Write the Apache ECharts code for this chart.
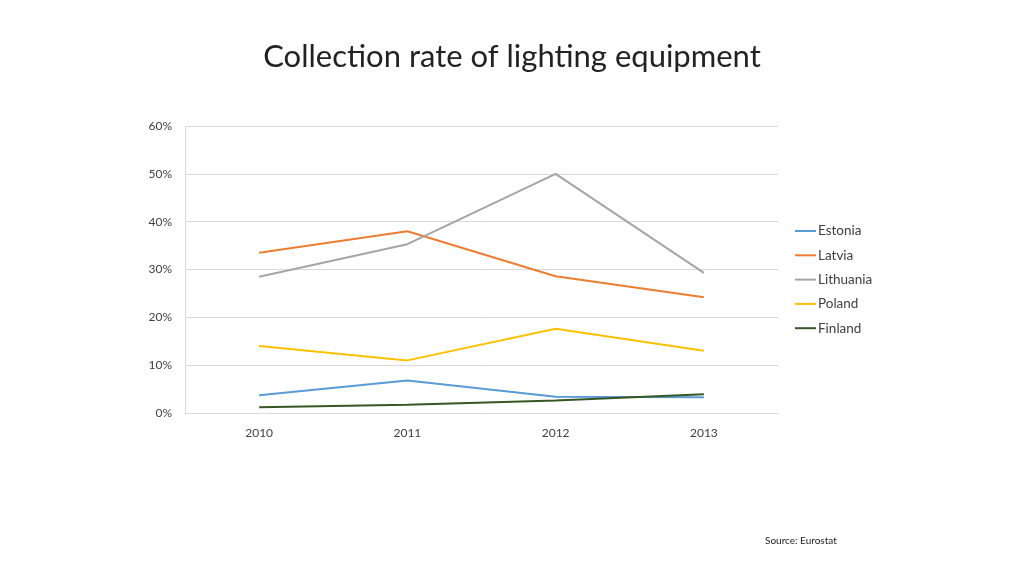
<!DOCTYPE html>
<html>
<head>
<meta charset="utf-8">
<script src="https://cdn.jsdelivr.net/npm/echarts@6/dist/echarts.min.js"></script>
<style>html,body{margin:0;padding:0;background:#fff;}#c{width:1024px;height:576px;}</style>
</head>
<body>
<div id="c"></div>
<script>
const categories = ['2010', '2011', '2012', '2013'];
const seriesNames = ['Estonia', 'Latvia', 'Lithuania', 'Poland', 'Finland'];
const estonia = [3.7, 6.8, 3.4, 3.3];
const latvia = [33.5, 38.0, 28.6, 24.2];
const lithuania = [28.5, 35.3, 50.0, 29.3];
const poland = [14.0, 11.0, 17.6, 13.0];
const finland = [1.2, 1.7, 2.6, 3.9];
const colors = ['#5b9bd5', '#ed7d31', '#a5a5a5', '#ffc000', '#375623'];
const values = [estonia, latvia, lithuania, poland, finland];

const chart = echarts.init(document.getElementById('c'), null, {renderer: 'canvas'});
const font = 'Lato, "Open Sans", sans-serif';
chart.setOption({
  animation: false,
  backgroundColor: '#ffffff',
  title: {
    text: 'Collection rate of lighting equipment',
    left: 'center',
    top: 36,
    textStyle: {fontFamily: font, fontSize: 31, fontWeight: 'normal', color: '#222'}
  },
  graphic: [{
    type: 'text',
    left: 765,
    top: 536,
    style: {text: 'Source: Eurostat', font: '10px ' + font, fill: '#222'}
  }],
  legend: {
    orient: 'vertical',
    left: 790,
    top: 219,
    itemWidth: 21,
    itemHeight: 2,
    itemGap: 10.3,
    icon: 'rect',
    textStyle: {fontFamily: font, fontSize: 13.5, color: '#404040', padding: [0, 0, 0, -3]},
    data: seriesNames
  },
  grid: {left: 185, right: 246, top: 126, bottom: 163, containLabel: false},
  xAxis: {
    type: 'category',
    data: categories,
    boundaryGap: true,
    axisLine: {lineStyle: {color: '#d9d9d9', width: 1}},
    axisTick: {show: false},
    axisLabel: {fontFamily: font, fontSize: 12, color: '#404040', margin: 14}
  },
  yAxis: {
    type: 'value',
    min: 0,
    max: 60,
    interval: 10,
    axisLine: {show: true, lineStyle: {color: '#d9d9d9', width: 1}},
    axisTick: {show: false},
    splitLine: {lineStyle: {color: '#d9d9d9', width: 1}},
    axisLabel: {fontFamily: font, fontSize: 12, color: '#404040', margin: 13, formatter: '{value}%'}
  },
  series: seriesNames.map((n, i) => ({
    name: n,
    type: 'line',
    data: values[i],
    color: colors[i],
    symbol: 'none',
    lineStyle: {width: 2, color: colors[i]},
    itemStyle: {color: colors[i]}
  }))
});
</script>
</body>
</html>
